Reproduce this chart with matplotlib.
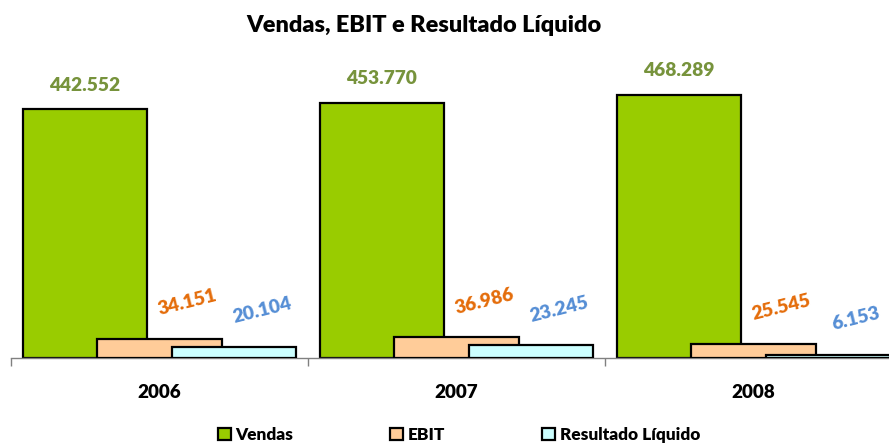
import matplotlib
matplotlib.use("Agg")
import matplotlib.pyplot as plt
import numpy as np

plt.rcParams['font.family'] = ['Lato', 'DejaVu Sans']
WEIGHT = 'heavy'

years = ['2006', '2007', '2008']
vendas = [442552, 453770, 468289]
ebit = [34151, 36986, 25545]
resultado = [20104, 23245, 6153]
labels_vendas = ['442.552', '453.770', '468.289']
labels_ebit = ['34.151', '36.986', '25.545']
labels_res = ['20.104', '23.245', '6.153']
series_names = ['Vendas', 'EBIT', 'Resultado Líquido']

fill_colors = ['#99CC00', '#FFCC99', '#CCFFFF']
text_colors = ['#77933C', '#E46C0A', '#558ED5']

W, H = 889, 445
fig = plt.figure(figsize=(W / 100, H / 100), dpi=100)
ax_left, ax_right = 11, 902
ax_bottom, ax_top = 358, 77
ax = fig.add_axes([ax_left / W, (H - ax_bottom) / H,
                   (ax_right - ax_left) / W, (ax_bottom - ax_top) / H])

x = np.arange(len(years))
bw = 0.419
offs = [-0.251, 0.0, 0.251]
all_series = [vendas, ebit, resultado]
all_labels = [labels_vendas, labels_ebit, labels_res]
handles = []
for i, (vals, labs) in enumerate(zip(all_series, all_labels)):
    bars = ax.bar(x + offs[i], vals, width=bw, color=fill_colors[i],
                  edgecolor='black', linewidth=1.6, zorder=2 + i,
                  label=series_names[i])
    handles.append(bars)
    for xi, v, lab in zip(x, vals, labs):
        if i == 0:
            ax.annotate(lab, (xi + offs[i], v), xytext=(0, 24),
                        textcoords='offset pixels', ha='center', va='center',
                        fontsize=13.8, fontweight=WEIGHT, color=text_colors[i],
                        annotation_clip=False)
        else:
            ax.annotate(lab, (xi + offs[i], v), xytext=(28, 36),
                        textcoords='offset pixels', ha='center', va='center',
                        rotation=14, rotation_mode='anchor',
                        fontsize=13.8, fontweight=WEIGHT, color=text_colors[i],
                        annotation_clip=False)

ax.set_xlim(-0.5, 2.5)
ax.set_ylim(0, 500000)
for s in ['top', 'right', 'left']:
    ax.spines[s].set_visible(False)
ax.spines['bottom'].set_color('#808080')
ax.spines['bottom'].set_linewidth(1.0)
ax.set_yticks([])
ax.set_xticks(x)
ax.set_xticklabels(years, fontsize=13.6, fontweight=WEIGHT)
ax.tick_params(axis='x', which='major', length=0, pad=19)
ax.set_xticks([-0.5, 0.5, 1.5, 2.5], minor=True)
ax.tick_params(axis='x', which='minor', length=6, width=1.0, color='#808080',
               direction='out')

fig.text(424 / W, 1 - 26 / H, 'Vendas, EBIT e Resultado Líquido',
         ha='center', va='center', fontsize=16.9, fontweight=WEIGHT)

leg = fig.legend(handles=handles, labels=series_names, loc='center',
                 bbox_to_anchor=(459 / W, 1 - 435 / H), ncol=3, frameon=False,
                 prop={'size': 12.4, 'weight': WEIGHT}, handlelength=0.75,
                 handleheight=0.75, handletextpad=0.3, columnspacing=5.6,
                 borderaxespad=0)

fig.savefig('out.png', dpi=100)
